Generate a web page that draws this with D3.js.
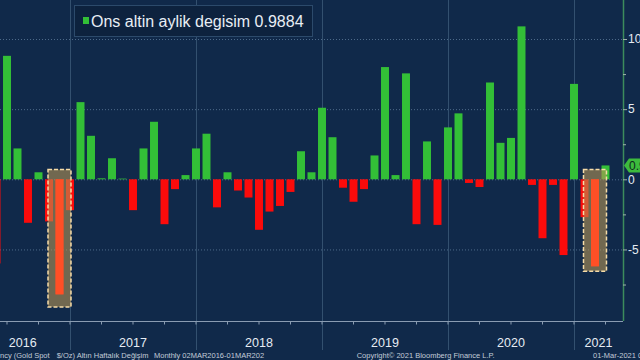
<!DOCTYPE html>
<html>
<head>
<meta charset="utf-8">
<script src="https://cdn.jsdelivr.net/npm/d3@7"></script>
<style>
  html, body { margin: 0; padding: 0; background: #10294a; }
  svg { display: block; }
  text { font-family: "Liberation Sans", Arial, sans-serif; }
</style>
</head>
<body>
<svg id="chart" width="640" height="360"></svg>
<script>
// ---- data ----
const months = [
  "2016-05","2016-06","2016-07","2016-08","2016-09","2016-10","2016-11","2016-12",
  "2017-01","2017-02","2017-03","2017-04","2017-05","2017-06","2017-07","2017-08","2017-09","2017-10","2017-11","2017-12",
  "2018-01","2018-02","2018-03","2018-04","2018-05","2018-06","2018-07","2018-08","2018-09","2018-10","2018-11","2018-12",
  "2019-01","2019-02","2019-03","2019-04","2019-05","2019-06","2019-07","2019-08","2019-09","2019-10","2019-11","2019-12",
  "2020-01","2020-02","2020-03","2020-04","2020-05","2020-06","2020-07","2020-08","2020-09","2020-10","2020-11","2020-12",
  "2021-01","2021-02","2021-03"
];
const values = [
  -6.0, 8.8, 2.2, -3.1, 0.5, -3.0, -8.2, -2.2,
  5.5, 3.1, 0.07, 1.5, 0.05, -2.2, 2.2, 4.1, -3.2, -0.7, 0.3, 2.2,
  3.25, -2.0, 0.5, -0.8, -1.3, -3.6, -2.3, -1.9, -0.9, 2.0, 0.5, 5.1,
  3.0, -0.6, -1.6, -0.7, 1.7, 8.0, 0.3, 7.55, -3.2, 2.7, -3.25, 3.7,
  4.7, -0.26, -0.55, 6.9, 2.6, 2.95, 10.9, -0.4, -4.2, -0.4, -5.4, 6.8,
  -2.7, -6.2, 0.9884
];
const yTicks = [-5, 0, 5, 10];
const yMinorTicks = [-7.5, -2.5, 2.5, 7.5];
const years = ["2016", "2017", "2018", "2019", "2020", "2021"];
const dataStartMonth = "2016-03";          // from footer: 02MAR2016
const highlightMonths = ["2016-11", "2021-02"];
const highlightHigh = [0.7, 0.7];
const highlightLow = [-9.1, -6.55];
const seriesName = "Ons altin aylik degisim";
const lastLabel = "0.9884";

// ---- layout ----
const svg = d3.select("#chart");
const W = 640, H = 360;
const plotRight = 623, axisY = 321;
const step = 10.5;
const x = d3.scaleBand().domain(months)
  .range([-8.75, -8.75 + months.length * step])
  .paddingInner(0.24).paddingOuter(0.12);
const cx = m => x(m) + x.bandwidth() / 2;
const y = d3.scaleLinear().domain([-10.1, 12.78]).range([axisY, 0]);

svg.append("rect").attr("width", W).attr("height", H).attr("fill", "#10294a");

// horizontal dotted grid
svg.append("g").selectAll("line").data(yTicks).join("line")
  .attr("x1", 0).attr("x2", plotRight)
  .attr("y1", d => y(d) + 0.5).attr("y2", d => y(d) + 0.5)
  .attr("stroke", "#4d6a8a").attr("stroke-dasharray", "1,2").attr("stroke-width", 1);

// year separators
const decMonths = months.filter(m => m.endsWith("-12"));
svg.append("g").selectAll("line").data(decMonths).join("line")
  .attr("x1", d => Math.round(cx(d)) + 0.5).attr("x2", d => Math.round(cx(d)) + 0.5)
  .attr("y1", 0).attr("y2", 350)
  .attr("stroke", "#33506f").attr("stroke-width", 1);

// bars
const data = months.map((m, i) => ({ m, v: values[i] }));
svg.append("g").selectAll("rect").data(data).join("rect")
  .attr("x", d => x(d.m)).attr("width", x.bandwidth())
  .attr("y", d => y(Math.max(0, d.v)))
  .attr("height", d => Math.abs(y(d.v) - y(0)))
  .attr("fill", d => d.v >= 0 ? "#33bf37" : "#fb0b0b");

// highlight boxes
const hl = highlightMonths.map((m, i) => ({ m, hi: highlightHigh[i], lo: highlightLow[i], v: values[months.indexOf(m)] }));
svg.append("g").selectAll("rect").data(hl).join("rect")
  .attr("x", d => cx(d.m) - 11.5).attr("width", 23)
  .attr("y", d => y(d.hi)).attr("height", d => y(d.lo) - y(d.hi))
  .attr("fill", "rgba(185,150,85,0.58)")
  .attr("stroke", "#f6dca8").attr("stroke-width", 1.5).attr("stroke-dasharray", "4,2");
svg.append("g").selectAll("rect").data(hl).join("rect")
  .attr("x", d => x(d.m)).attr("width", x.bandwidth())
  .attr("y", d => y(Math.max(0, d.v)))
  .attr("height", d => Math.abs(y(d.v) - y(0)))
  .attr("fill", "#ff4f26");

// bottom axis
svg.append("line").attr("x1", 0).attr("x2", plotRight)
  .attr("y1", axisY + 0.5).attr("y2", axisY + 0.5)
  .attr("stroke", "#8a9cb2").attr("stroke-width", 1);
const quarterMonths = months.filter(m => ["03","06","09","12"].includes(m.slice(5)));
const bx = svg.append("g").attr("transform", `translate(0,${axisY + 0.5})`)
  .call(d3.axisBottom(x).tickValues(quarterMonths).tickSize(3).tickFormat(""));
bx.select(".domain").remove();
bx.selectAll(".tick line").attr("stroke", "#8a9cb2");

// year labels
const firstStart = cx(months[0]) - step * (months.indexOf(months[0]) + 2); // Mar 2016 position
const bounds = [firstStart, ...decMonths.map(cx), plotRight];
svg.append("g").selectAll("text").data(years).join("text")
  .attr("x", (d, i) => (bounds[i] + bounds[i + 1]) / 2)
  .attr("y", 347)
  .attr("text-anchor", "middle")
  .attr("font-size", 12.5)
  .attr("fill", "#e6ecf3")
  .text(d => d);

// right axis
svg.append("line").attr("x1", plotRight + 0.5).attr("x2", plotRight + 0.5)
  .attr("y1", 0).attr("y2", axisY)
  .attr("stroke", "#3c8c5c").attr("stroke-width", 1.5);
const ra = svg.append("g").attr("transform", `translate(${plotRight},0)`)
  .call(d3.axisRight(y).tickValues(yTicks).tickSize(4).tickPadding(1).tickFormat(d => String(d)));
ra.select(".domain").remove();
ra.selectAll(".tick line").attr("stroke", "#9fb3a8");
ra.selectAll(".tick text").attr("fill", "#e6ecf3").attr("font-size", 12)
  .attr("font-family", "Liberation Sans, Arial, sans-serif");
svg.append("g").selectAll("line").data(yMinorTicks).join("line")
  .attr("x1", plotRight).attr("x2", plotRight + 3)
  .attr("y1", d => y(d) + 0.5).attr("y2", d => y(d) + 0.5)
  .attr("stroke", "#9fb3a8");

// last value tag
const lastV = values[values.length - 1];
const ty = y(lastV);
svg.append("path")
  .attr("d", `M${plotRight + 1},${ty} L${plotRight + 6},${ty - 7} L${W + 5},${ty - 7} L${W + 5},${ty + 7} L${plotRight + 6},${ty + 7} Z`)
  .attr("fill", "#3dbb3d");
svg.append("text").attr("x", plotRight + 6).attr("y", ty + 4.5)
  .attr("font-size", 12).attr("fill", "#0e2a1c").text(lastLabel);

// legend
svg.append("rect").attr("x", 74.5).attr("y", 5.5).attr("width", 238).attr("height", 31)
  .attr("fill", "#0d223e").attr("stroke", "#2c4a6b");
svg.append("rect").attr("x", 83).attr("y", 17).attr("width", 6).attr("height", 7)
  .attr("fill", "#33bf37");
svg.append("text").attr("x", 91).attr("y", 27)
  .attr("font-size", 16).attr("fill", "#e8eef5")
  .text(seriesName + " " + lastLabel);

// footer
const foot = svg.append("g").attr("font-size", 7.5).attr("fill", "#c2ccd8");
foot.append("text").attr("x", 0).attr("y", 358).text("ncy (Gold Spot");
foot.append("text").attr("x", 56.7).attr("y", 358).text("$/Oz) Altın Haftalık Değişim");
foot.append("text").attr("x", 154).attr("y", 358).text("Monthly 02MAR2016-01MAR202");
foot.append("text").attr("x", 356.7).attr("y", 358).text("Copyright© 2021 Bloomberg Finance L.P.");
foot.append("text").attr("x", 593).attr("y", 358).text("01-Mar-2021 0");
</script>
</body>
</html>
